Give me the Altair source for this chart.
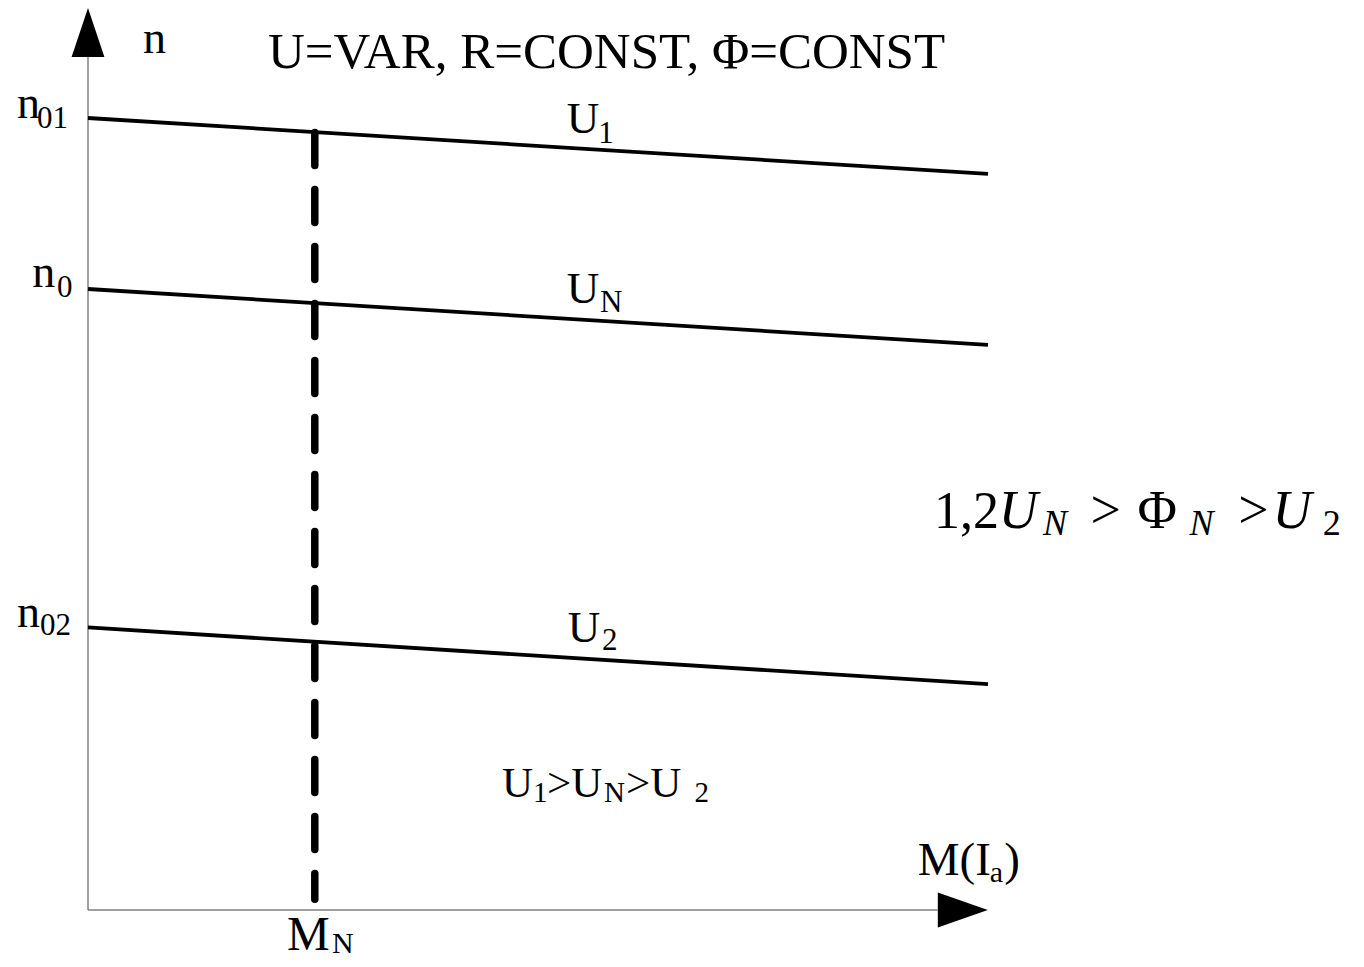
import altair as alt
import pandas as pd

# Characteristic lines n = f(M): value at M=0 and at M=100 (axis units)
line_names = ["U1", "UN", "U2"]
m_start = [0, 0, 0]
m_end = [100, 100, 100]
n_start = [88.0, 69.0, 31.4]
n_end = [81.8, 62.8, 25.1]

# Rated torque marker
mn_value = [25.2]
mn_n_top = [86.4]
mn_n_bottom = [1.2]

# Axis extents (axis units) and arrow heads
axis_x_end = [94.4]
axis_y_end = [94.8]
arrow_x_center = [97.2]
arrow_y_center = [97.5]

FONT = "Liberation Serif"

rows = []
for name, m0, m1, n0, n1 in zip(line_names, m_start, m_end, n_start, n_end):
    rows.append({"name": name, "M": m0, "n": n0})
    rows.append({"name": name, "M": m1, "n": n1})
lines_df = pd.DataFrame(rows)

xs = alt.Scale(domain=[0, 100], nice=False, zero=False)
ys = alt.Scale(domain=[0, 100], nice=False, zero=False)

lines = alt.Chart(lines_df).mark_line(color="black", strokeWidth=3.8).encode(
    x=alt.X("M:Q", scale=xs, axis=None),
    y=alt.Y("n:Q", scale=ys, axis=None),
    detail="name:N",
)

dash_df = pd.DataFrame({"M": mn_value, "top": mn_n_top, "bottom": mn_n_bottom})
dashed = alt.Chart(dash_df).mark_rule(
    color="black", strokeWidth=7.5, strokeDash=[33, 24], strokeCap="round"
).encode(
    x=alt.X("M:Q", scale=xs, axis=None),
    y=alt.Y("top:Q", scale=ys, axis=None),
    y2="bottom:Q",
)

yaxis_df = pd.DataFrame({"M": [0], "n0": [0], "n1": axis_y_end})
yaxis = alt.Chart(yaxis_df).mark_rule(color="#808080", strokeWidth=1.5).encode(
    x=alt.X("M:Q", scale=xs, axis=None),
    y=alt.Y("n0:Q", scale=ys, axis=None),
    y2="n1:Q",
)
xaxis_df = pd.DataFrame({"m0": [0], "m1": axis_x_end, "n": [0]})
xaxis = alt.Chart(xaxis_df).mark_rule(color="#808080", strokeWidth=1.5).encode(
    x=alt.X("m0:Q", scale=xs, axis=None),
    x2="m1:Q",
    y=alt.Y("n:Q", scale=ys, axis=None),
)

up_df = pd.DataFrame({"M": [0], "n": arrow_y_center})
arrow_up = alt.Chart(up_df).mark_point(
    shape="M0,-1L0.67,1L-0.67,1Z", filled=True, color="black", opacity=1,
    size=2401, strokeWidth=0,
).encode(x=alt.X("M:Q", scale=xs, axis=None), y=alt.Y("n:Q", scale=ys, axis=None))

right_df = pd.DataFrame({"M": arrow_x_center, "n": [0]})
arrow_right = alt.Chart(right_df).mark_point(
    shape="M1,0L-1,-0.7L-1,0.7Z", filled=True, color="black", opacity=1,
    size=2500, strokeWidth=0,
).encode(x=alt.X("M:Q", scale=xs, axis=None), y=alt.Y("n:Q", scale=ys, axis=None))

# Annotation text pieces: (text, x, y, size)
upright = [
    ("n", 6.1, 95.2, 46),
    ("U=VAR, R=CONST, Φ=CONST", 20.0, 93.6, 51),
    ("n", -7.9, 88.0, 46), ("01", -5.67, 86.9, 31),
    ("n", -6.2, 69.2, 46), ("0", -3.44, 68.1, 31),
    ("n", -7.9, 31.4, 46), ("02", -5.33, 30.6, 31),
    ("U", 53.2, 86.3, 45), ("1", 56.7, 85.2, 31),
    ("U", 53.2, 67.4, 45), ("N", 56.9, 66.4, 31),
    ("U", 53.3, 29.8, 45), ("2", 57.1, 28.9, 31),
    ("M", 22.1, -4.4, 48), ("N", 27.1, -4.8, 30),
    ("M(I", 92.2, 3.9, 47), ("a", 100.2, 3.1, 30), (")", 101.8, 3.9, 47),
    ("U", 46.0, 12.6, 43), ("1", 49.44, 12.0, 29),
    (">U", 51.0, 12.6, 43), ("N", 57.33, 12.0, 29),
    (">U", 59.78, 12.6, 43), ("2", 67.4, 12.0, 29),
    ("1,2", 94.0, 42.44, 52),
    (">", 111.4, 42.44, 54), ("Φ", 116.6, 42.44, 54),
    (">", 127.8, 42.44, 54), ("2", 137.2, 41.67, 36),
]
italic = [
    ("U", 101.2, 42.44, 54), ("N", 106.1, 41.67, 36),
    ("N", 122.4, 41.67, 36),
    ("U", 131.6, 42.44, 54),
]


def text_layer(items, style):
    df = pd.DataFrame(items, columns=["t", "x", "y", "s"])
    return alt.Chart(df).mark_text(
        align="left", baseline="alphabetic", font=FONT, fontStyle=style, color="black"
    ).encode(
        x=alt.X("x:Q", scale=xs, axis=None),
        y=alt.Y("y:Q", scale=ys, axis=None),
        text="t:N",
        size=alt.Size("s:Q", scale=None),
    )


chart = alt.layer(
    yaxis, xaxis, arrow_up, arrow_right, lines, dashed,
    text_layer(upright, "normal"), text_layer(italic, "italic"),
).properties(
    width=900,
    height=900,
    padding={"left": 80, "top": 2, "right": 368, "bottom": 49},
    autosize=alt.AutoSizeParams(type="none"),
    background="white",
).configure_view(stroke=None)

chart.save("out.html", embed_options={"renderer": "svg", "actions": False})
